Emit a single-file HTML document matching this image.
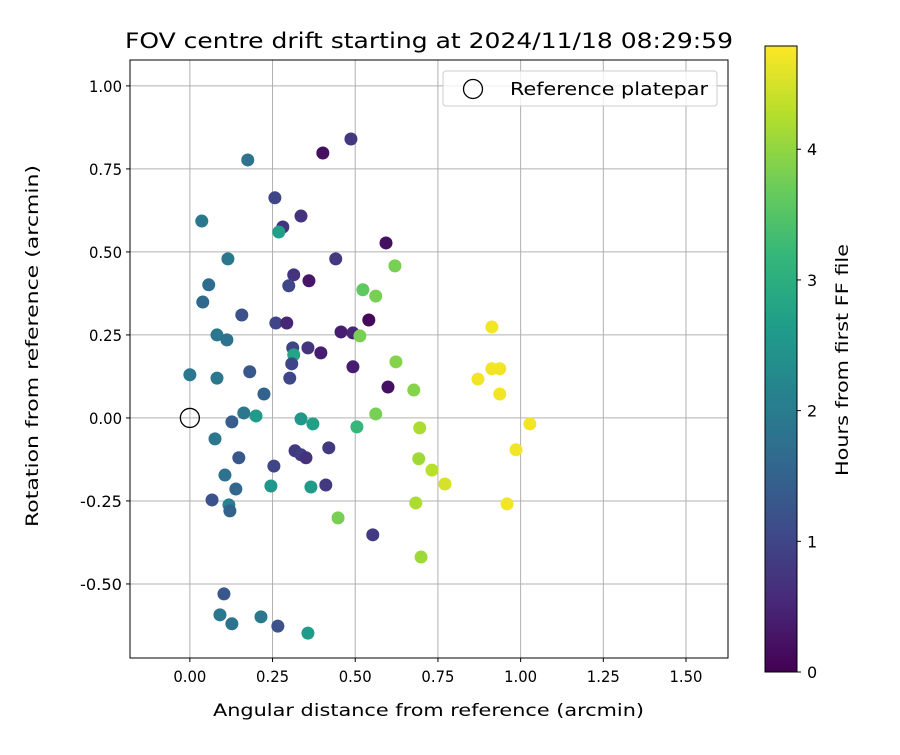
<!DOCTYPE html>
<html><head><meta charset="utf-8"><style>
body{margin:0;background:#fff}
svg text{font-family:"DejaVu Sans","Liberation Sans",sans-serif;fill:#000}
</style></head><body>
<svg id="chart" width="900" height="750" xmlns="http://www.w3.org/2000/svg">
<defs><linearGradient id="vir" x1="0" y1="1" x2="0" y2="0"></linearGradient></defs>
<g id="grid"></g><g id="pts"></g><g id="axes"></g>
</svg>
<script>
const xs=[0.487,0.402,0.175,0.257,0.281,0.336,0.036,0.269,0.593,0.441,0.620,0.314,0.360,0.299,0.057,0.039,0.523,0.562,0.115,0.541,0.260,0.293,0.157,0.457,0.493,0.514,0.082,0.112,0.311,0.357,0.396,0.314,0.000,0.308,0.493,0.623,0.082,0.181,0.224,0.599,0.677,0.302,0.163,0.200,0.336,0.372,0.562,0.127,0.076,0.505,0.695,0.318,0.336,0.351,0.420,0.148,0.254,0.732,0.692,0.771,0.106,0.139,0.245,0.366,0.411,0.067,0.118,0.121,0.448,0.683,0.553,0.699,0.103,0.091,0.127,0.215,0.266,0.357,0.913,0.871,0.913,0.937,0.937,1.028,0.986,0.959];
const ys=[0.840,0.798,0.777,0.663,0.575,0.608,0.593,0.560,0.527,0.479,0.458,0.431,0.413,0.398,0.401,0.349,0.386,0.367,0.479,0.295,0.286,0.286,0.310,0.259,0.256,0.247,0.250,0.235,0.211,0.211,0.196,0.190,0.130,0.163,0.154,0.169,0.120,0.139,0.072,0.093,0.084,0.120,0.015,0.006,-0.003,-0.018,0.012,-0.012,-0.063,-0.027,-0.030,-0.099,-0.111,-0.120,-0.090,-0.120,-0.145,-0.157,-0.123,-0.199,-0.172,-0.214,-0.205,-0.208,-0.202,-0.247,-0.262,-0.280,-0.301,-0.256,-0.352,-0.419,-0.530,-0.593,-0.620,-0.599,-0.627,-0.648,0.274,0.117,0.148,0.148,0.072,-0.018,-0.096,-0.259];
const hours=[0.8,0.2,1.8,1.0,0.7,0.7,1.9,2.7,0.2,0.8,3.8,0.7,0.3,1.0,1.7,1.6,3.6,3.8,1.9,0.1,1.0,0.5,1.2,0.4,0.5,3.8,1.9,1.8,1.0,0.7,0.4,2.8,1.9,1.0,0.4,3.9,1.9,1.3,1.5,0.2,3.9,1.0,1.9,2.6,2.5,2.7,3.8,1.4,1.9,3.2,4.2,0.8,0.9,0.7,0.8,1.3,1.0,4.3,4.1,4.5,1.8,1.6,2.5,2.6,0.8,1.2,2.1,1.5,3.8,4.2,0.8,4.1,1.3,1.9,1.8,1.9,1.2,2.6,4.7,4.7,4.7,4.7,4.7,4.7,4.7,4.7];
const xTicks=[0,0.25,0.5,0.75,1.0,1.25,1.5];
const yTicks=[-0.5,-0.25,0,0.25,0.5,0.75,1.0];
const cTicks=[0,1,2,3,4];
const L=130,R=728,T=60,B=658,xmin=-0.181,xmax=1.627,ymin=-0.723,ymax=1.078,hmax=4.79;
const sx=v=>L+(v-xmin)/(xmax-xmin)*(R-L), sy=v=>B-(v-ymin)/(ymax-ymin)*(B-T);
const CB={x:765,w:32,t:46,b:672};const sc=v=>CB.b-v/hmax*(CB.b-CB.t);
const vir=[[68,1,84],[72,40,120],[62,74,137],[49,104,142],[38,130,142],[31,158,137],[53,183,121],[109,205,89],[180,222,44],[253,231,37]];
function cmap(t){t=Math.max(0,Math.min(1,t))*(vir.length-1);const i=Math.min(Math.floor(t),vir.length-2),f=t-i;const c=vir[i].map((a,k)=>Math.round(a+(vir[i+1][k]-a)*f));return `rgb(${c})`;}
const NS="http://www.w3.org/2000/svg";
function mk(tag,at,par,txt){const e=document.createElementNS(NS,tag);for(const k in at)e.setAttribute(k,at[k]);if(txt!==undefined)e.textContent=txt;par.appendChild(e);return e;}
const g=document.getElementById('grid'),p=document.getElementById('pts'),a=document.getElementById('axes');
xTicks.forEach(v=>{const X=sx(v);
 let l=mk('line',{x1:X,x2:X,y1:T,y2:B,stroke:'#b0b0b0','stroke-width':1},g);
 mk('line',{x1:X,x2:X,y1:B,y2:B+4,stroke:'#000'},a);
 let t=mk('text',{x:X,y:B+24,'text-anchor':'middle','font-size':16,textLength:33,lengthAdjust:'spacingAndGlyphs'},a,v.toFixed(2));});
yTicks.forEach(v=>{const Y=sy(v);
 let l=mk('line',{x1:L,x2:R,y1:Y,y2:Y,stroke:'#b0b0b0','stroke-width':1},g);
 mk('line',{x1:L-4,x2:L,y1:Y,y2:Y,stroke:'#000'},a);
 const s=v.toFixed(2);
 let t=mk('text',{x:L-8,y:Y+6,'text-anchor':'end','font-size':16,textLength:s.length>4?42:33,lengthAdjust:'spacingAndGlyphs'},a,s);});
xs.forEach((v,i)=>{let c=mk('circle',{cx:sx(v),cy:sy(ys[i]),r:6.5,fill:cmap(hours[i]/hmax)},p);});
let ref=mk('circle',{cx:sx(0),cy:sy(0),r:9.5,fill:'none',stroke:'#000','stroke-width':1.3},p);
let fr=mk('rect',{x:L,y:T,width:R-L,height:B-T,fill:'none',stroke:'#000','stroke-width':1},a);
let lg=mk('g',{},a);
mk('rect',{x:443,y:71,width:274,height:35,rx:3,fill:'#fff','fill-opacity':0.8,stroke:'#ccc'},lg);
mk('circle',{cx:473,cy:89,r:9.5,fill:'none',stroke:'#000','stroke-width':1.3},lg);
mk('text',{x:510,y:95,'font-size':18,textLength:198,lengthAdjust:'spacingAndGlyphs'},lg,'Reference platepar');
let tt=mk('text',{x:125,y:48,'font-size':21,textLength:608,lengthAdjust:'spacingAndGlyphs'},a,'FOV centre drift starting at 2024/11/18 08:29:59');
let xt=mk('text',{x:213,y:716,'font-size':17,textLength:431,lengthAdjust:'spacingAndGlyphs'},a,'Angular distance from reference (arcmin)');
let yt=mk('text',{x:0,y:0,'text-anchor':'middle','font-size':17,textLength:362,lengthAdjust:'spacingAndGlyphs',transform:`translate(38,${(T+B)/2-13}) rotate(-90)`},a,'Rotation from reference (arcmin)');
const gr=document.getElementById('vir');vir.forEach((c,i)=>mk('stop',{offset:i/(vir.length-1),'stop-color':`rgb(${c})`},gr));
let cb=mk('rect',{x:CB.x,y:CB.t,width:CB.w,height:CB.b-CB.t,fill:'url(#vir)',stroke:'#000'},a);
cTicks.forEach(v=>{const Y=sc(v);mk('line',{x1:CB.x+CB.w,x2:CB.x+CB.w+4,y1:Y,y2:Y,stroke:'#000'},a);
 let t=mk('text',{x:CB.x+CB.w+10,y:Y+6,'font-size':16},a,String(v));});
let ct=mk('text',{x:0,y:0,'text-anchor':'middle','font-size':17,textLength:232,lengthAdjust:'spacingAndGlyphs',transform:`translate(848,360) rotate(-90)`},a,'Hours from first FF file');
</script>
</body></html>
